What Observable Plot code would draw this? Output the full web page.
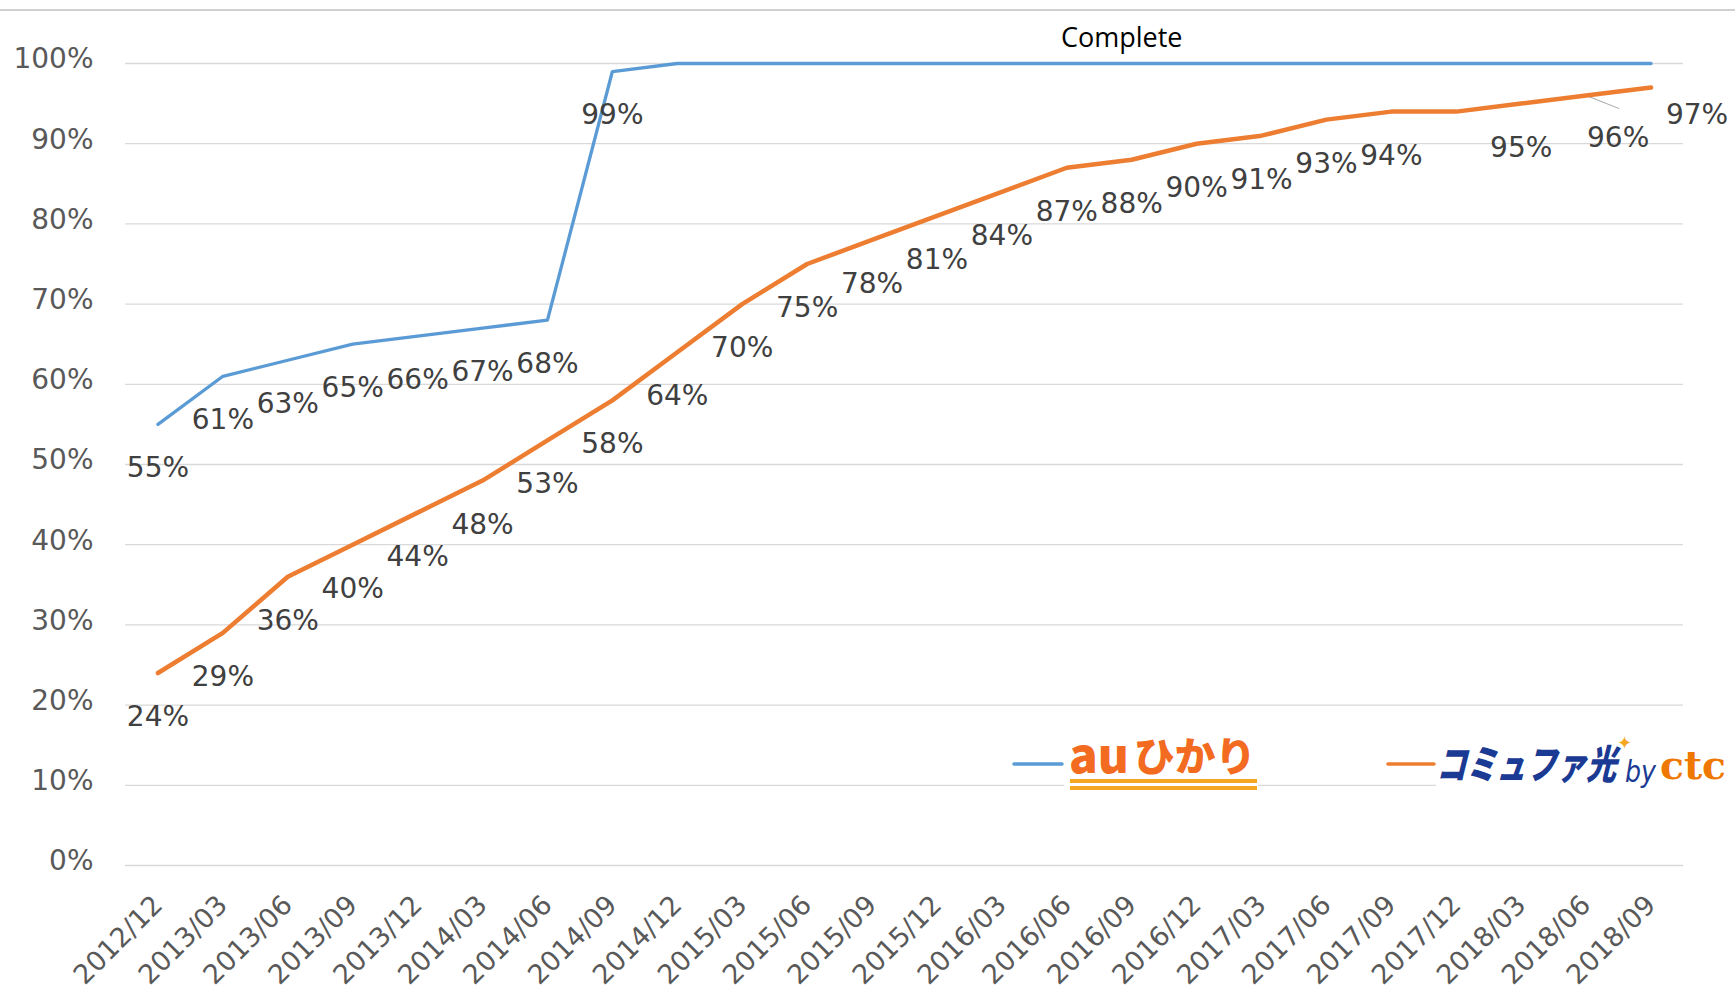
<!DOCTYPE html>
<html>
<head>
<meta charset="utf-8">
<script src="https://cdn.jsdelivr.net/npm/d3@7"></script>
<script src="https://cdn.jsdelivr.net/npm/@observablehq/plot@0.6"></script>
<style>
  body { margin: 0; background: #fff; }
  #wrap { position: relative; width: 1735px; height: 994px; overflow: hidden; background: #fff; }
  #topline { position: absolute; left: 0; top: 9px; width: 1735px; height: 1.5px; background: #d0d0d0; }
  #chart { position: absolute; left: 0; top: 0; }
  #legend { position: absolute; left: 0; top: 0; pointer-events: none; }
</style>
</head>
<body>
<div id="wrap">
  <div id="topline"></div>
  <div id="chart"></div>
  <svg id="legend" width="1735" height="994"></svg>
</div>
<script>
// ---- data ----
const periods = ["2012/12","2013/03","2013/06","2013/09","2013/12","2014/03","2014/06","2014/09","2014/12",
  "2015/03","2015/06","2015/09","2015/12","2016/03","2016/06","2016/09","2016/12","2017/03","2017/06",
  "2017/09","2017/12","2018/03","2018/06","2018/09"];
const auHikari = [0.55,0.61,0.63,0.65,0.66,0.67,0.68,0.99,1,1,1,1,1,1,1,1,1,1,1,1,1,1,1,1];
const commufa = [0.24,0.29,0.36,0.40,0.44,0.48,0.53,0.58,0.64,0.70,0.75,0.78,0.81,0.84,0.87,0.88,
  0.90,0.91,0.93,0.94,0.94,0.95,0.96,0.97];
const commufaHiddenLabels = ["2017/12"];
const yTicks = [0,0.1,0.2,0.3,0.4,0.5,0.6,0.7,0.8,0.9,1];
const seriesNames = ["auひかり", "コミュファ光 by ctc"];
const annotation = {period: "2016/09", value: 1, text: "Complete"};

// ---- derived rows ----
const auRows = periods.map((p, i) => ({period: p, value: auHikari[i], series: seriesNames[0]}));
const coRows = periods.map((p, i) => ({period: p, value: commufa[i], series: seriesNames[1]}));
const pct = d3.format(".0%");
const nCo = coRows.length;
const coMain = coRows.filter((d, i) => i < nCo - 2 && !commufaHiddenLabels.includes(d.period));
const co96 = [coRows[nCo - 2]];
const co97 = [coRows[nCo - 1]];
const auLabeled = auRows.filter(d => d.value < 1);

const BLUE = "#5B9BD5", ORANGE = "#ED7D31", LABEL = "#404040", AXIS = "#595959";

const chart = Plot.plot({
  width: 1735,
  height: 994,
  marginLeft: 125,
  marginRight: 52,
  marginTop: 63,
  marginBottom: 129,
  style: {fontFamily: "'DejaVu Sans', Verdana, sans-serif", background: "transparent", overflow: "visible"},
  x: {type: "point", domain: periods, padding: 0.5, round: false},
  y: {domain: [0, 1]},
  marks: [
    Plot.ruleY(yTicks, {stroke: "#d9d9d9", strokeWidth: 1.3}),
    Plot.axisY({ticks: yTicks, tickFormat: pct, tickSize: 0, tickPadding: 32, fontSize: 28, color: AXIS, dy: -4, label: null}),
    Plot.axisX({tickRotate: -45, tickSize: 0, tickPadding: 35, fontSize: 27, color: AXIS, label: null}),
    Plot.vector(co96, {x: "period", y: "value", length: 35, rotate: 111.5, anchor: "start", r: 0, stroke: "#a6a6a6", strokeWidth: 1}),
    Plot.line(auRows, {x: "period", y: "value", stroke: BLUE, strokeWidth: 3.3, strokeLinejoin: "round", strokeLinecap: "round"}),
    Plot.line(coRows, {x: "period", y: "value", stroke: ORANGE, strokeWidth: 4.5, strokeLinejoin: "round", strokeLinecap: "round"}),
    Plot.text(auLabeled, {x: "period", y: "value", text: d => pct(d.value), dy: 44, fontSize: 28, fill: LABEL}),
    Plot.text(coMain, {x: "period", y: "value", text: d => pct(d.value), dy: 44, fontSize: 28, fill: LABEL}),
    Plot.text(co96, {x: "period", y: "value", text: d => pct(d.value), dx: 32, dy: 42, fontSize: 28, fill: LABEL}),
    Plot.text(co97, {x: "period", y: "value", text: d => pct(d.value), dx: 46, dy: 27, fontSize: 28, fill: LABEL}),
    Plot.text([annotation], {x: "period", y: "value", text: "text", dx: -10, dy: -25, fontSize: 27, fill: "#000", fontFamily: "'Open Sans', sans-serif"})
  ]
});
document.getElementById("chart").appendChild(chart);

// ---- legend (logos as text) ----
const lg = d3.select("#legend");
// auひかり
lg.append("rect").attr("x", 1064).attr("y", 735).attr("width", 194).attr("height", 60).attr("fill", "#fff");
lg.append("line").attr("x1", 1014).attr("x2", 1062).attr("y1", 764).attr("y2", 764)
  .attr("stroke", BLUE).attr("stroke-width", 3.5).attr("stroke-linecap", "round");
lg.append("text").attr("x", 1069).attr("y", 773).text(seriesNames[0].slice(0, 2))
  .attr("font-family", "'Noto Sans CJK JP', sans-serif").attr("font-weight", 900).attr("font-size", 48)
  .attr("fill", "#F26B21").attr("textLength", 60).attr("lengthAdjust", "spacingAndGlyphs");
lg.append("text").attr("x", 1134).attr("y", 771).text(seriesNames[0].slice(2))
  .attr("font-family", "'Noto Sans CJK JP', sans-serif").attr("font-weight", 900).attr("font-size", 40)
  .attr("fill", "#F26B21").attr("textLength", 122).attr("lengthAdjust", "spacingAndGlyphs");
lg.append("rect").attr("x", 1070).attr("y", 779).attr("width", 187).attr("height", 4).attr("fill", "#F5A623");
lg.append("rect").attr("x", 1070).attr("y", 786).attr("width", 187).attr("height", 4).attr("fill", "#F5A623");
// コミュファ光 by ctc
lg.append("rect").attr("x", 1436).attr("y", 735).attr("width", 299).attr("height", 60).attr("fill", "#fff");
lg.append("line").attr("x1", 1388).attr("x2", 1434).attr("y1", 764).attr("y2", 764)
  .attr("stroke", ORANGE).attr("stroke-width", 3.5).attr("stroke-linecap", "round");
lg.append("text").attr("transform", "translate(1436,779) skewX(-14)").text("コミュファ光")
  .attr("font-family", "'Noto Sans CJK JP', sans-serif").attr("font-weight", 900).attr("font-size", 40)
  .attr("fill", "#1B3A93").attr("textLength", 180).attr("lengthAdjust", "spacingAndGlyphs");
lg.append("text").attr("x", 1617).attr("y", 749).text("✦")
  .attr("font-family", "'DejaVu Sans', sans-serif").attr("font-size", 18).attr("fill", "#F5A623");
lg.append("text").attr("x", 1625).attr("y", 782).text("by")
  .attr("font-family", "'DejaVu Sans', sans-serif").attr("font-style", "italic").attr("font-size", 30)
  .attr("fill", "#1B3A93").attr("textLength", 31).attr("lengthAdjust", "spacingAndGlyphs");
lg.append("text").attr("x", 1660).attr("y", 779).text("ctc")
  .attr("font-family", "'DejaVu Serif', serif").attr("font-weight", "bold").attr("font-size", 40)
  .attr("fill", "#EE7800").attr("textLength", 66).attr("lengthAdjust", "spacingAndGlyphs");
</script>
</body>
</html>
